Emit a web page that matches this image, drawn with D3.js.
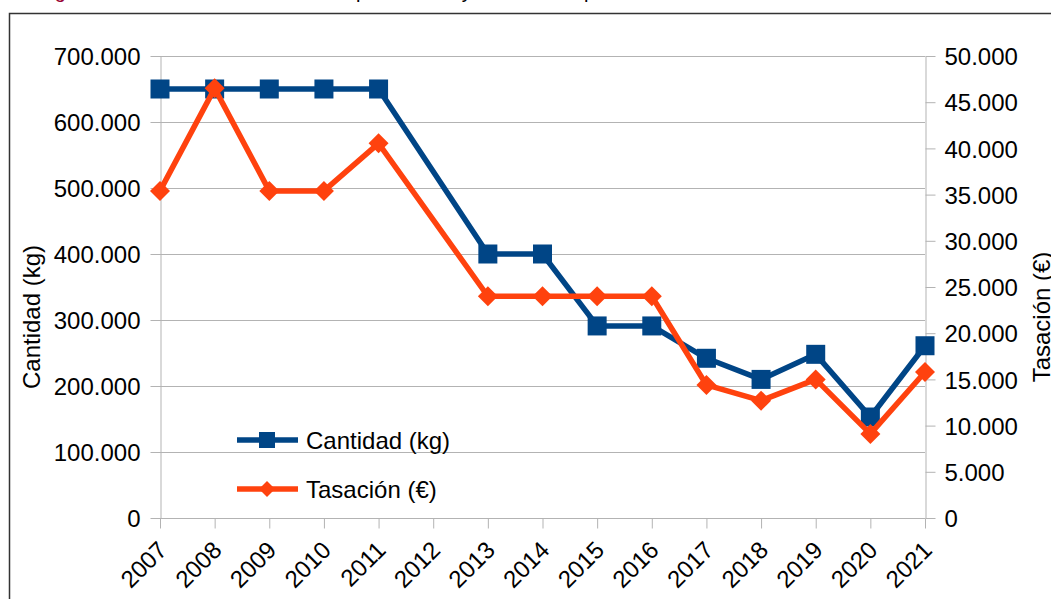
<!DOCTYPE html>
<html>
<head>
<meta charset="utf-8">
<script src="https://cdn.jsdelivr.net/npm/d3@7/dist/d3.min.js"></script>
<style>
	body { margin: 0; background: #fff; }
	svg { display: block; font-family: "Liberation Sans", Arial, sans-serif; }
	.grid line { stroke: #b3b3b3; stroke-width: 1; }
	.axis path, .axis line { stroke: #b3b3b3; }
	.axis text { fill: #000; font-size: 24px; }
</style>
</head>
<body>
<svg width="1051" height="599"></svg>
<script>

// data
var years = ["2007","2008","2009","2010","2011","2012","2013","2014","2015","2016","2017","2018","2019","2020","2021"];
var cantidad = [650000, 650000, 650000, 650000, 650000, null, 400000, 400000, 291000, 291000, 242000, 210000, 248000, 153000, 261000];
var tasacion = [35400, 46500, 35400, 35400, 40550, null, 24000, 24000, 24000, 24000, 14400, 12700, 15000, 9100, 15800];
var leftTicks = [0, 100000, 200000, 300000, 400000, 500000, 600000, 700000];
var rightTicks = [0, 5000, 10000, 15000, 20000, 25000, 30000, 35000, 40000, 45000, 50000];

var blue = "#004586", orange = "#ff420e";

var svg = d3.select("svg");

var fmt = function(v) { return d3.format(",")(v).replace(/,/g, "."); };

// frame and cut-off caption above the chart
svg.append("text")
	.attr("x", 38).attr("y", -2)
	.style("font-size", "20px")
	.html('<tspan fill="#990033">Figura 4.</tspan><tspan fill="#000"> Evolución de la cantidad aprehendida y su tasación por año</tspan>');

svg.append("rect")
	.attr("x", 9.5).attr("y", 13.5)
	.attr("width", 1100).attr("height", 700)
	.attr("fill", "none")
	.attr("stroke", "#333").attr("stroke-width", 1.5);

var x = d3.scalePoint().domain(years).range([160, 925]);
var yL = d3.scaleLinear().domain([0, 700000]).range([518, 56]);
var yR = d3.scaleLinear().domain([0, 50000]).range([518, 56]);

// horizontal grid
svg.append("g").attr("class", "grid")
	.selectAll("line")
	.data(leftTicks.slice(1))
	.enter().append("line")
	.attr("x1", 160).attr("x2", 925)
	.attr("y1", function(d) { return yL(d) + 0.5; })
	.attr("y2", function(d) { return yL(d) + 0.5; });

// axes
var gx = svg.append("g").attr("class", "axis")
	.attr("transform", "translate(0," + 518.5 + ")")
	.call(d3.axisBottom(x).tickSize(10).tickPadding(0).tickSizeOuter(0));
gx.select(".domain").attr("d", "M160,0H925");
gx.selectAll("text")
	.attr("text-anchor", "end")
	.attr("dy", null)
	.attr("transform", "translate(8,33) rotate(-45)")
	.attr("y", 0).attr("x", 0);

var gl = svg.append("g").attr("class", "axis")
	.attr("transform", "translate(160.5,0)")
	.call(d3.axisLeft(yL).tickValues(leftTicks).tickFormat(fmt).tickSize(10).tickPadding(10).tickSizeOuter(0));
gl.selectAll("text").attr("dy", "0.36em");

var gr = svg.append("g").attr("class", "axis")
	.attr("transform", "translate(925.5,0)")
	.call(d3.axisRight(yR).tickValues(rightTicks).tickFormat(fmt).tickSize(10).tickPadding(9).tickSizeOuter(0));
gr.selectAll("text").attr("dy", "0.36em");

// axis titles
svg.append("text")
	.attr("transform", "translate(40,317) rotate(-90)")
	.attr("text-anchor", "middle")
	.style("font-size", "24px")
	.text("Cantidad (kg)");
svg.append("text")
	.attr("transform", "translate(1050,317) rotate(-90)")
	.attr("text-anchor", "middle")
	.style("font-size", "24px")
	.text("Tasación (€)");

// lines
var lineL = d3.line()
	.x(function(d) { return x(d.year); })
	.y(function(d) { return yL(d.v); });
var lineR = d3.line()
	.x(function(d) { return x(d.year); })
	.y(function(d) { return yR(d.v); });

var cData = years.map(function(y, i) { return {year: y, v: cantidad[i]}; });
var tData = years.map(function(y, i) { return {year: y, v: tasacion[i]}; });

// missing 2012 is bridged in the reference
var cPts = cData.filter(function(d) { return d.v != null; });
var tPts = tData.filter(function(d) { return d.v != null; });

svg.append("path")
	.datum(cPts)
	.attr("d", lineL)
	.attr("fill", "none").attr("stroke", blue)
	.attr("stroke-width", 5.5).attr("stroke-linejoin", "round");

svg.append("g").selectAll("rect")
	.data(cPts)
	.enter().append("rect")
	.attr("x", function(d) { return x(d.year) - 9.5; })
	.attr("y", function(d) { return yL(d.v) - 9.5; })
	.attr("width", 19).attr("height", 19)
	.attr("fill", blue);

svg.append("path")
	.datum(tPts)
	.attr("d", lineR)
	.attr("fill", "none").attr("stroke", orange)
	.attr("stroke-width", 5.5).attr("stroke-linejoin", "round");

var diamond = "M0,-10L10,0L0,10L-10,0Z";
svg.append("g").selectAll("path")
	.data(tPts)
	.enter().append("path")
	.attr("d", diamond)
	.attr("transform", function(d) { return "translate(" + x(d.year) + "," + yR(d.v) + ")"; })
	.attr("fill", orange);

// legend
var legend = svg.append("g");
var items = [
	{label: "Cantidad (kg)", color: blue, marker: "square", y: 440},
	{label: "Tasación (€)", color: orange, marker: "diamond", y: 489}
];
items.forEach(function(it) {
	legend.append("line")
		.attr("x1", 237).attr("x2", 298)
		.attr("y1", it.y).attr("y2", it.y)
		.attr("stroke", it.color).attr("stroke-width", 5.5);
	if (it.marker == "square") {
		legend.append("rect")
			.attr("x", 259).attr("y", it.y - 8)
			.attr("width", 16).attr("height", 16)
			.attr("fill", it.color);
	} else {
		legend.append("path")
			.attr("d", "M0,-8L8,0L0,8L-8,0Z")
			.attr("transform", "translate(267," + it.y + ")")
			.attr("fill", it.color);
	}
	legend.append("text")
		.attr("x", 306).attr("y", it.y)
		.attr("dy", "0.36em")
		.style("font-size", "24px")
		.text(it.label);
});
</script>
</body>
</html>
